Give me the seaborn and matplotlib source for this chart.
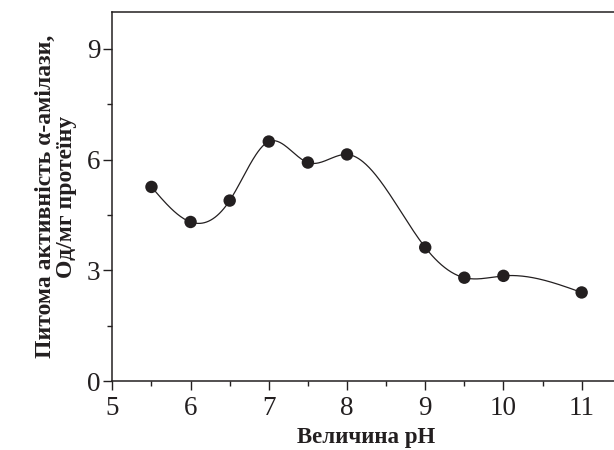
"""Specific alpha-amylase activity vs pH."""

import matplotlib

matplotlib.use("Agg")
import matplotlib.pyplot as plt  # noqa: E402
import numpy as np  # noqa: E402
import pandas as pd  # noqa: E402
import seaborn as sns  # noqa: E402
from matplotlib.ticker import MultipleLocator  # noqa: E402

# values
ph = [5.5, 6.0, 6.5, 7.0, 7.5, 8.0, 9.0, 9.5, 10.0, 11.0]
activity = [5.26, 4.31, 4.89, 6.49, 5.92, 6.14, 3.62, 2.80, 2.85, 2.40]

X_LABEL = "Величина pH"
Y_LABEL = "Питома активність α-амілази,\nОд/мг протеїну"


def natural_spline(x, y, n=400):
    """Smooth curve through the measured points (natural cubic spline)."""
    x = np.asarray(x, float)
    y = np.asarray(y, float)
    h = np.diff(x)
    k = len(x)
    a = np.zeros((k, k))
    b = np.zeros(k)
    a[0, 0] = a[-1, -1] = 1.0
    for i in range(1, k - 1):
        a[i, i - 1] = h[i - 1]
        a[i, i] = 2 * (h[i - 1] + h[i])
        a[i, i + 1] = h[i]
        b[i] = 6 * ((y[i + 1] - y[i]) / h[i] - (y[i] - y[i - 1]) / h[i - 1])
    m = np.linalg.solve(a, b)
    xs = np.linspace(x[0], x[-1], n)
    idx = np.clip(np.searchsorted(x, xs) - 1, 0, k - 2)
    x0, x1 = x[idx], x[idx + 1]
    hh = x1 - x0
    t0, t1 = x1 - xs, xs - x0
    ys = (
        m[idx] * t0**3 / (6 * hh)
        + m[idx + 1] * t1**3 / (6 * hh)
        + (y[idx] / hh - m[idx] * hh / 6) * t0
        + (y[idx + 1] / hh - m[idx + 1] * hh / 6) * t1
    )
    return xs, ys


def main() -> None:
    sns.set_style("ticks")
    plt.rcParams["font.family"] = ["Liberation Serif", "DejaVu Serif"]

    df = pd.DataFrame({"ph": ph, "activity": activity})
    xs, ys = natural_spline(ph, activity)
    curve = pd.DataFrame({"ph": xs, "activity": ys})

    fig = plt.figure(figsize=(6.14, 4.5), dpi=100)
    ax = fig.add_axes([0.183, 0.1533, 0.828, 0.82])

    sns.lineplot(data=curve, x="ph", y="activity", ax=ax, color="#231f20",
                 linewidth=0.9, sort=False, estimator=None)
    sns.scatterplot(data=df, x="ph", y="activity", ax=ax, color="#231f20",
                    s=80, edgecolor="none", zorder=3)

    ax.set_xlim(5, 11.5)
    ax.set_ylim(0, 10)
    ax.xaxis.set_major_locator(MultipleLocator(1))
    ax.xaxis.set_minor_locator(MultipleLocator(0.5))
    ax.yaxis.set_major_locator(MultipleLocator(3))
    ax.yaxis.set_minor_locator(MultipleLocator(1.5))
    ax.tick_params(which="major", direction="out", length=6.5, width=1.0,
                   labelsize=19.5, color="#231f20", labelcolor="#231f20", pad=2)
    ax.tick_params(which="minor", direction="out", length=3.5, width=1.0,
                   color="#231f20")
    ax.tick_params(axis="x", which="major", pad=4.5)
    for side in ("left", "bottom", "top", "right"):
        ax.spines[side].set_visible(True)
        ax.spines[side].set_linewidth(1.1)
        ax.spines[side].set_color("#231f20")

    ax.set_xlabel(X_LABEL, fontsize=16.5, fontweight="bold", color="#231f20",
                  labelpad=4)
    ax.set_ylabel(Y_LABEL, fontsize=17, fontweight="bold", color="#231f20",
                  labelpad=7, linespacing=1.0)

    fig.savefig("out.png", dpi=100, facecolor="white")


if __name__ == "__main__":
    main()
